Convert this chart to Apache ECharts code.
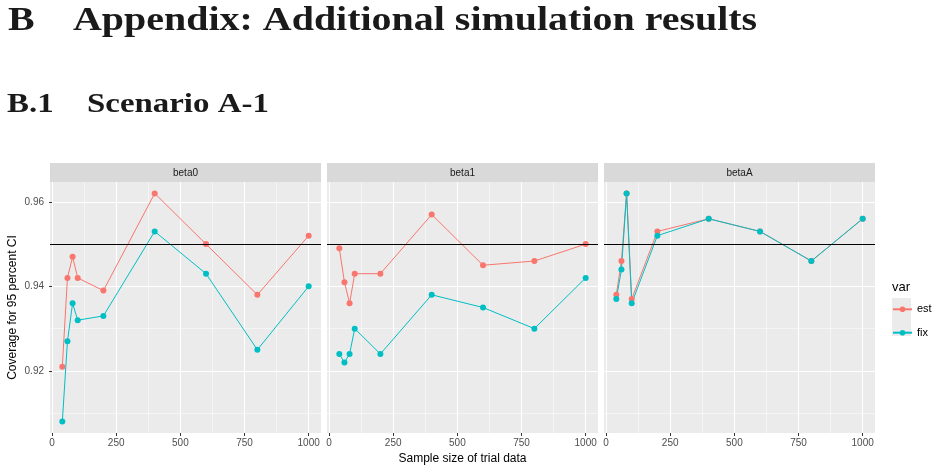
<!DOCTYPE html>
<html>
<head>
<meta charset="utf-8">
<script src="https://cdn.jsdelivr.net/npm/echarts@6/dist/echarts.min.js"></script>
<style>
  html, body { margin: 0; padding: 0; background: #fff; }
  #main { width: 936px; height: 470px; }
</style>
</head>
<body>
<div id="main"></div>
<script>
// sample sizes of the trial data
var sizes = [40, 60, 80, 100, 200, 400, 600, 800, 1000];
var panels = ["beta0", "beta1", "betaA"];

// coverage for 95 percent CI
var beta0Est = [0.921, 0.942, 0.947, 0.942, 0.939, 0.962, 0.950, 0.938, 0.952];
var beta0Fix = [0.908, 0.927, 0.936, 0.932, 0.933, 0.953, 0.943, 0.925, 0.940];
var beta1Est = [0.949, 0.941, 0.936, 0.943, 0.943, 0.957, 0.945, 0.946, 0.950];
var beta1Fix = [0.924, 0.922, 0.924, 0.930, 0.924, 0.938, 0.935, 0.930, 0.942];
var betaAEst = [0.938, 0.946, 0.962, 0.937, 0.953, 0.956, 0.953, 0.946, 0.956];
var betaAFix = [0.937, 0.944, 0.962, 0.936, 0.952, 0.956, 0.953, 0.946, 0.956];

var xMajor = [0, 250, 500, 750, 1000];
var xMinor = [125, 375, 625, 875];
var yMajor = [0.92, 0.94, 0.96];
var yMinor = [0.91, 0.93, 0.95];
var target = 0.95;

var estValues = [beta0Est, beta1Est, betaAEst];
var fixValues = [beta0Fix, beta1Fix, betaAFix];

var colors = { est: "#F8766D", fix: "#00BFC4" };
var panelLeft = [50, 327, 604];
var panelW = 271, panelTop = 182, panelH = 251;
var xMin = -8, xMax = 1048, yMin = 0.9053, yMax = 0.9647;

function $each(arr, fn) { for (var i = 0; i < arr.length; i++) fn(i, arr[i]); }
function pairs(ys) {
    var out = [];
    $each(sizes, function (i, x) { out.push([x, ys[i]]); });
    return out;
}

var grids = [], xAxes = [], yAxes = [], series = [], graphics = [];

$each(panels, function (p, name) {
    grids.push({ left: panelLeft[p], top: panelTop, width: panelW, height: panelH,
        show: true, backgroundColor: "#EBEBEB", borderWidth: 0 });

    // major x
    xAxes.push({
        type: "value", gridIndex: p, min: xMin, max: xMax,
        axisLine: { show: false },
        axisTick: { show: true, length: 3, customValues: xMajor, lineStyle: { color: "#333333", width: 1 } },
        axisLabel: { show: true, customValues: xMajor, margin: 5, color: "#4D4D4D", fontSize: 10, fontFamily: "Liberation Sans",
            formatter: function (v) { return String(v); } },
        splitLine: { show: true, lineStyle: { color: "#FFFFFF", width: 1.1 } },
        name: p === 1 ? "Sample size of trial data" : "",
        nameLocation: "middle", nameGap: 20,
        nameTextStyle: { color: "#000000", fontSize: 12, fontFamily: "Liberation Sans" }
    });
    // minor x
    xAxes.push({
        type: "value", gridIndex: p, min: xMin, max: xMax, position: "bottom",
        axisLine: { show: false },
        axisTick: { show: false, customValues: xMinor },
        axisLabel: { show: false, customValues: xMinor },
        splitLine: { show: true, lineStyle: { color: "#FFFFFF", width: 0.5 } }
    });
    // major y (ticks and labels only on the first facet)
    yAxes.push({
        type: "value", gridIndex: p, min: yMin, max: yMax,
        axisLine: { show: false },
        axisTick: { show: p === 0, length: 3, customValues: yMajor, lineStyle: { color: "#333333", width: 1 } },
        axisLabel: { show: p === 0, customValues: yMajor, margin: 6, color: "#4D4D4D", fontSize: 10, fontFamily: "Liberation Sans",
            formatter: function (v) { return v.toFixed(2); } },
        splitLine: { show: true, lineStyle: { color: "#FFFFFF", width: 1.1 } },
        name: p === 0 ? "Coverage for 95 percent CI" : "",
        nameLocation: "middle", nameGap: 31,
        nameTextStyle: { color: "#000000", fontSize: 12, fontFamily: "Liberation Sans" }
    });
    // minor y
    yAxes.push({
        type: "value", gridIndex: p, min: yMin, max: yMax, position: "left",
        axisLine: { show: false },
        axisTick: { show: false, customValues: yMinor },
        axisLabel: { show: false, customValues: yMinor },
        splitLine: { show: true, lineStyle: { color: "#FFFFFF", width: 0.5 } }
    });

    series.push({
        name: "est", type: "line", xAxisIndex: 2 * p, yAxisIndex: 2 * p,
        data: pairs(estValues[p]), symbol: "circle", symbolSize: 6,
        lineStyle: { color: colors.est, width: 1 }, itemStyle: { color: colors.est },
        markLine: {
            silent: true, symbol: "none", label: { show: false },
            lineStyle: { color: "#000000", width: 1, type: "solid" },
            data: [{ yAxis: target }], z: 10
        }
    });
    series.push({
        name: "fix", type: "line", xAxisIndex: 2 * p, yAxisIndex: 2 * p,
        data: pairs(fixValues[p]), symbol: "circle", symbolSize: 6,
        lineStyle: { color: colors.fix, width: 1 }, itemStyle: { color: colors.fix }
    });

    // facet strip
    graphics.push({ type: "rect", shape: { x: panelLeft[p], y: 163, width: panelW, height: 19 },
        style: { fill: "#D9D9D9" } });
    graphics.push({ type: "text", x: panelLeft[p] + panelW / 2, y: 173,
        style: { text: name, fill: "#1A1A1A", font: "10px 'Liberation Sans'", align: "center", verticalAlign: "middle" } });
});

// document headings (LaTeX bold is wider, so stretch a bit)
var wide = 1.175;
graphics.push({ type: "text", x: 8, y: 21, scaleX: wide,
    style: { text: "B", fill: "#1A1A1A", font: "bold 34px 'Liberation Serif'", verticalAlign: "middle" } });
graphics.push({ type: "text", x: 73, y: 21, scaleX: wide,
    style: { text: "Appendix: Additional simulation results", fill: "#1A1A1A", font: "bold 34px 'Liberation Serif'", verticalAlign: "middle" } });
graphics.push({ type: "text", x: 7, y: 105, scaleX: wide,
    style: { text: "B.1", fill: "#1A1A1A", font: "bold 28px 'Liberation Serif'", verticalAlign: "middle" } });
graphics.push({ type: "text", x: 87, y: 105, scaleX: wide,
    style: { text: "Scenario A-1", fill: "#1A1A1A", font: "bold 28px 'Liberation Serif'", verticalAlign: "middle" } });

// legend title and key background
graphics.push({ type: "text", x: 892, y: 287,
    style: { text: "var", fill: "#000", font: "13px 'Liberation Sans'", verticalAlign: "middle" } });
graphics.push({ type: "rect", shape: { x: 892, y: 298, width: 19, height: 38 }, style: { fill: "#EBEBEB" } });

var option = {
    animation: false,
    backgroundColor: "#FFFFFF",
    grid: grids,
    xAxis: xAxes,
    yAxis: yAxes,
    legend: {
        data: ["est", "fix"], orient: "vertical", left: 892, top: 303.8,
        itemWidth: 19, itemHeight: 7, itemGap: 12.4, padding: 0,
        textStyle: { color: "#000", fontSize: 11, fontFamily: "Liberation Sans" }
    },
    graphic: graphics,
    series: series
};

echarts.init(document.getElementById("main")).setOption(option);
</script>
</body>
</html>
